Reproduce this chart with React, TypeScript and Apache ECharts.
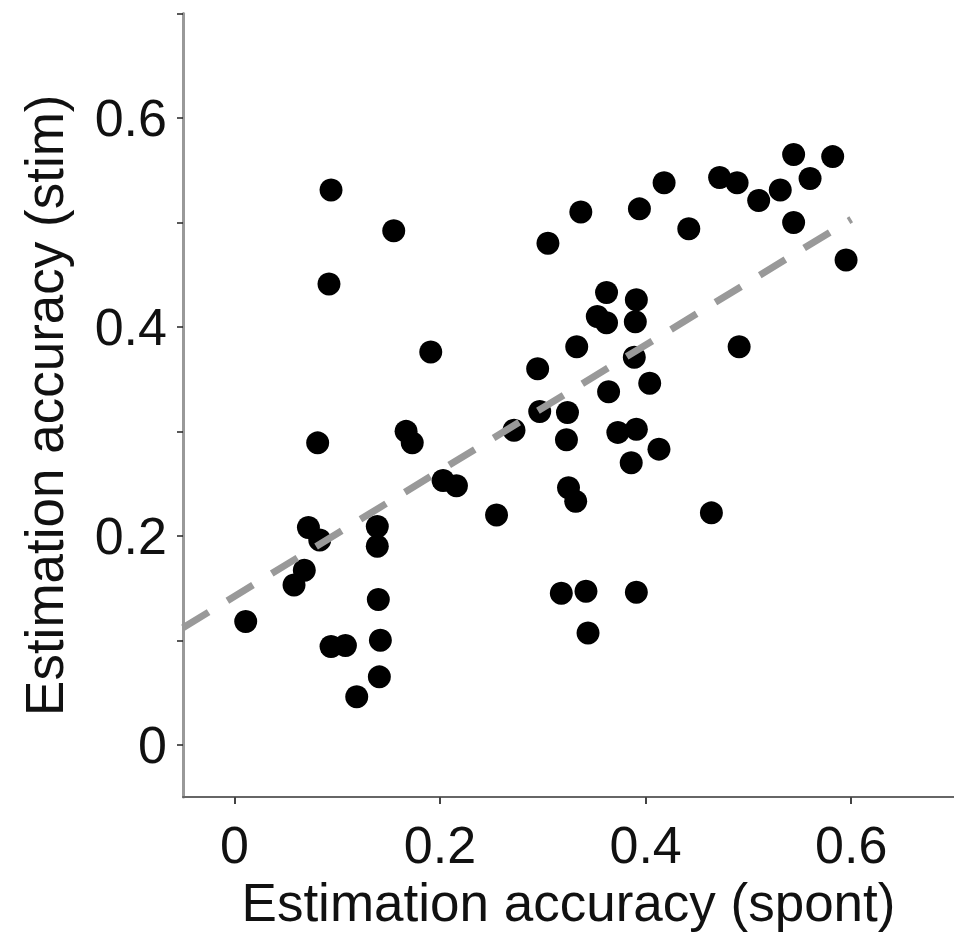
import React, { useEffect, useRef } from "react";
import * as echarts from "echarts";

const spontX = [
  0.011, 0.094, 0.092, 0.155, 0.191, 0.081, 0.167, 0.173, 0.072, 0.083,
  0.068, 0.058, 0.139, 0.139, 0.140, 0.142, 0.094, 0.108, 0.141, 0.119,
  0.203, 0.216, 0.255, 0.272, 0.297, 0.295, 0.305, 0.337, 0.333, 0.324,
  0.323, 0.325, 0.332, 0.318, 0.342, 0.344, 0.391, 0.353, 0.362, 0.362,
  0.364, 0.389, 0.390, 0.391, 0.373, 0.391, 0.386, 0.413, 0.404, 0.394,
  0.418, 0.442, 0.472, 0.489, 0.510, 0.531, 0.544, 0.544, 0.560, 0.582,
  0.595, 0.491, 0.464,
];
const stimY = [
  0.118, 0.531, 0.441, 0.492, 0.376, 0.289, 0.300, 0.289, 0.208, 0.196,
  0.167, 0.153, 0.209, 0.190, 0.139, 0.100, 0.094, 0.095, 0.065, 0.046,
  0.253, 0.248, 0.220, 0.301, 0.319, 0.360, 0.480, 0.510, 0.381, 0.318,
  0.292, 0.246, 0.233, 0.145, 0.147, 0.107, 0.146, 0.410, 0.404, 0.433,
  0.338, 0.371, 0.405, 0.426, 0.299, 0.302, 0.270, 0.283, 0.346, 0.513,
  0.538, 0.494, 0.543, 0.538, 0.521, 0.531, 0.565, 0.500, 0.542, 0.563,
  0.464, 0.381, 0.222,
];

const fitX = [-0.05, 0.6];
const fitY = [0.112, 0.503];

const xTickValues = [0, 0.2, 0.4, 0.6];
const yLabelValues = [0, 0.2, 0.4, 0.6];
const yTickValues = [0, 0.1, 0.2, 0.3, 0.4, 0.5, 0.6, 0.7];

const xName = "Estimation accuracy (spont)";
const yName = "Estimation accuracy (stim)";

const FONT = "Liberation Sans, Arial, Helvetica, sans-serif";

export default function App() {
  const ref = useRef<HTMLDivElement>(null);
  useEffect(() => {
    if (!ref.current) return;
    const chart = echarts.init(ref.current, null, { renderer: "svg" });
    const points = spontX.map((x, i) => [x, stimY[i]]);
    const fit = fitX.map((x, i) => [x, fitY[i]]);
    chart.setOption({
      animation: false,
      backgroundColor: "#ffffff",
      grid: { left: 183, right: -12.5, top: 13.5, bottom: 144, containLabel: false },
      xAxis: {
        type: "value",
        min: -0.05,
        max: 0.7,
        name: xName,
        nameLocation: "middle",
        nameGap: 78,
        nameTextStyle: { fontFamily: FONT, fontSize: 53, color: "#111" },
        axisLine: { show: true, onZero: false, lineStyle: { color: "#666", width: 2 } },
        axisTick: { show: true, length: 7, customValues: xTickValues, lineStyle: { color: "#444", width: 2 } },
        axisLabel: {
          customValues: xTickValues,
          margin: 22,
          fontFamily: FONT,
          fontSize: 52,
          color: "#111",
          formatter: (v: number) => String(v),
        },
        splitLine: { show: false },
      },
      yAxis: {
        type: "value",
        min: -0.05,
        max: 0.7,
        name: yName,
        nameLocation: "middle",
        nameGap: 112,
        nameRotate: 90,
        nameTextStyle: { fontFamily: FONT, fontSize: 53, color: "#111" },
        axisLine: { show: true, onZero: false, lineStyle: { color: "#999", width: 3 } },
        axisTick: { show: true, length: 6, customValues: yTickValues, lineStyle: { color: "#222", width: 1.5 } },
        axisLabel: {
          customValues: yLabelValues,
          margin: 16,
          fontFamily: FONT,
          fontSize: 52,
          color: "#111",
          formatter: (v: number) => String(v),
        },
        splitLine: { show: false },
      },
      series: [
        {
          type: "scatter",
          data: points,
          symbol: "circle",
          symbolSize: 23,
          itemStyle: { color: "#000", opacity: 1 },
          z: 2,
        },
        {
          type: "line",
          data: fit,
          symbol: "none",
          lineStyle: { color: "#999", width: 7, type: [30, 22] },
          z: 3,
        },
      ],
    });
    return () => chart.dispose();
  }, []);
  return (
    <div
      ref={ref}
      style={{ position: "fixed", left: 0, top: 0, width: 954, height: 941, background: "#fff" }}
    />
  );
}
